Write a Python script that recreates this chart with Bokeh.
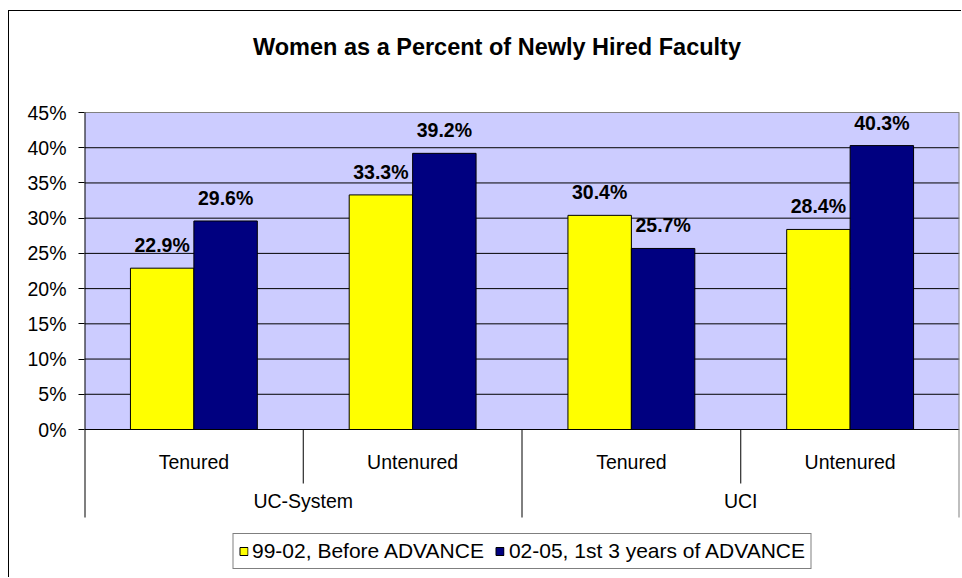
from bokeh.plotting import figure
from bokeh.models import (ColumnDataSource, FactorRange, Range1d, FixedTicker,
                          PrintfTickFormatter)
from bokeh.transform import dodge
from bokeh.core.properties import value
from bokeh.embed import file_html
from bokeh.resources import INLINE

# ---------------- data ----------------
title_text = "Women as a Percent of Newly Hired Faculty"
groups = ["UC-System", "UC-System", "UCI", "UCI"]
subcats = ["Tenured", "Untenured", "Tenured", "Untenured"]
series_names = ["99-02, Before ADVANCE", "02-05, 1st 3 years of ADVANCE"]
before = [22.9, 33.3, 30.4, 28.4]
after = [29.6, 39.2, 25.7, 40.3]
y_ticks = [0, 5, 10, 15, 20, 25, 30, 35, 40, 45]

# ---------------- layout constants ----------------
FONT = "Liberation Sans"
FS = "19.5px"
W, H = 953, 567
TOP_PX, ZERO_PX = 101, 418        # frame-relative y of the 45% and 0% lines
PX = (ZERO_PX - TOP_PX) / 45.0    # pixels per percent point
Y_MAX = 45
y_end = Y_MAX + TOP_PX / PX
y_start = -(H - ZERO_PX) / PX
y_short = -54 / PX
y_long = -88 / PX

factors = list(zip(groups, subcats))
x_range = FactorRange(*factors, factor_padding=0, group_padding=0, range_padding=0)

p = figure(width=W, height=H, x_range=x_range, y_range=Range1d(y_start, y_end),
           output_backend="svg", toolbar_location=None, tools="",
           x_axis_location=None,
           min_border_left=75, min_border_right=3, min_border_top=0, min_border_bottom=0)
p.styles = {"border-left": "1px solid #000000", "border-top": "1px solid #000000",
            "margin-top": "10px", "margin-left": "8px"}
p.outline_line_color = None
p.background_fill_color = "white"
p.border_fill_color = "white"
p.xgrid.visible = False
p.ygrid.visible = False

# y axis
ax = p.yaxis[0]
ax.ticker = FixedTicker(ticks=y_ticks)
ax.formatter = PrintfTickFormatter(format="%d%%")
ax.axis_line_color = None
ax.major_tick_in = 0
ax.major_tick_out = 6
ax.major_tick_line_color = "black"
ax.minor_tick_line_color = None
ax.major_label_text_font = FONT
ax.major_label_text_font_size = FS
ax.major_label_text_color = "black"
ax.major_label_standoff = 12

n = len(factors)
# plot-area background
p.quad(left=[0], right=[n], bottom=[0], top=[Y_MAX], fill_color="#CCCCFF", line_color=None)
# gridlines
grid_y = [t for t in y_ticks if 0 < t < Y_MAX]
p.segment(x0=[0] * len(grid_y), x1=[n] * len(grid_y), y0=grid_y, y1=grid_y,
          line_color="black", line_width=1)
p.segment(x0=[0], x1=[n], y0=[Y_MAX], y1=[Y_MAX], line_color="#808080", line_width=1)

src = ColumnDataSource(dict(x=factors, before=before, after=after,
                            lb=["%.1f%%" % v for v in before],
                            la=["%.1f%%" % v for v in after]))
off = 0.145
bw = 0.29
p.vbar(x=dodge("x", -off, range=p.x_range), top="before", width=bw, bottom=0,
       source=src, fill_color="#FFFF00", line_color="black", line_width=1,
       legend_label=series_names[0])
p.vbar(x=dodge("x", off, range=p.x_range), top="after", width=bw, bottom=0,
       source=src, fill_color="#000080", line_color="black", line_width=1,
       legend_label=series_names[1])

# baseline and axis lines
p.segment(x0=[0], x1=[n], y0=[0], y1=[0], line_color="black", line_width=1)
p.segment(x0=[0], x1=[0], y0=[Y_MAX], y1=[y_long], line_color="black", line_width=2)
p.segment(x0=[n], x1=[n], y0=[Y_MAX], y1=[y_long], line_color="#808080", line_width=2)
# category dividers
p.segment(x0=[1, 3], x1=[1, 3], y0=[0, 0], y1=[y_short, y_short], line_color="black", line_width=1)
p.segment(x0=[2], x1=[2], y0=[0], y1=[y_long], line_color="black", line_width=1)

# data labels
for col, lab, o in (("before", "lb", -off), ("after", "la", off)):
    p.text(x=dodge("x", o, range=p.x_range), y=col, text=lab, source=src,
           text_font=value(FONT), text_font_size=value(FS), text_font_style="bold",
           text_align="center", text_baseline="middle", y_offset=-23, text_color="black")

# category labels
p.text(x=factors, y=[0] * n, text=subcats, text_font=value(FONT), text_font_size=value(FS),
       text_align="center", text_baseline="middle", y_offset=32, text_color="black")
top_groups = list(dict.fromkeys(groups))
p.text(x=top_groups, y=[0] * len(top_groups), text=top_groups, text_font=value(FONT),
       text_font_size=value(FS), text_align="center", text_baseline="middle",
       y_offset=71, text_color="black")

# title
p.text(x=[n / 2], y=[Y_MAX], text=[title_text], text_font=value(FONT),
       text_font_size=value("23.5px"), text_font_style="bold", text_align="center",
       text_baseline="middle", x_offset=-25, y_offset=-66, text_color="black")

# legend
lg = p.legend[0]
lg.location = "bottom_center"
lg.orientation = "horizontal"
lg.margin = 9
lg.padding = 5
lg.spacing = 11
lg.glyph_width = 10
lg.glyph_height = 10
lg.label_standoff = 4
lg.label_text_font = FONT
lg.label_text_font_size = "21px"
lg.label_text_color = "black"
lg.border_line_color = "black"
lg.border_line_width = 1
lg.background_fill_color = "white"
lg.background_fill_alpha = 1

open("out.html", "w").write(file_html(p, INLINE))
